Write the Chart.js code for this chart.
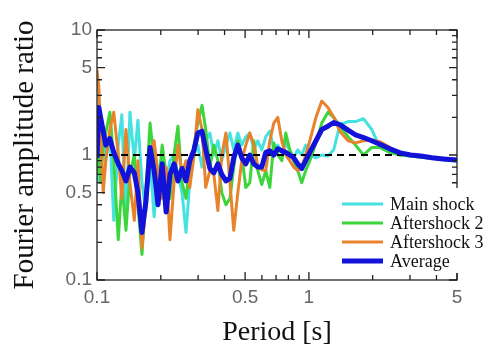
<!DOCTYPE html>
<html>
<head>
<meta charset="utf-8">
<script src="https://cdn.jsdelivr.net/npm/chart.js@4.4.1/dist/chart.umd.min.js"></script>
<style>
  html, body { margin: 0; padding: 0; background: #fff; }
  #wrap { width: 490px; height: 344px; }
</style>
</head>
<body>
<div id="wrap"><canvas id="spectra" width="490" height="344"></canvas></div>
<script>
// period [s] shared by all four spectra
const PERIODS = [0.100, 0.102, 0.104, 0.107, 0.110, 0.115, 0.120, 0.126, 0.131, 0.137,
  0.143, 0.150, 0.156, 0.163, 0.170, 0.178, 0.186, 0.194, 0.203, 0.212,
  0.221, 0.231, 0.241, 0.252, 0.263, 0.274, 0.287, 0.299, 0.313, 0.326,
  0.341, 0.356, 0.372, 0.388, 0.406, 0.424, 0.442, 0.462, 0.482, 0.504,
  0.526, 0.550, 0.574, 0.599, 0.626, 0.654, 0.683, 0.713, 0.745, 0.778,
  0.812, 0.848, 0.886, 0.925, 0.966, 1.01, 1.08, 1.15, 1.23, 1.31,
  1.40, 1.53, 1.66, 1.81, 1.98, 2.16, 2.41, 2.70, 3.02, 3.37,
  3.81, 4.30, 5.00];

const MAIN_SHOCK = [0.7, 0.62, 1.0, 1.4, 0.9, 1.5, 0.3, 1.2, 2.1, 0.3,
  2.2, 0.9, 1.9, 0.6, 0.35, 0.9, 0.32, 0.7, 1.0, 0.6,
  0.9, 1.0, 0.7, 0.5, 0.24, 0.6, 1.0, 1.2, 0.8, 1.3,
  1.5, 1.0, 1.3, 0.9, 1.2, 1.5, 1.1, 1.5, 1.2, 1.4,
  1.5, 1.1, 1.3, 1.1, 1.4, 1.55, 1.1, 1.2, 1.05, 1.25,
  1.1, 0.95, 1.1, 1.0, 1.2, 1.0, 0.95, 1.0, 0.98, 1.1,
  1.75, 1.85, 1.85, 1.95, 1.6, 1.15, 1.05, 1.0, 0.98, 0.96,
  0.94, 0.92, 0.89];

const AFTERSHOCK_2 = [0.7, 1.1, 0.6, 1.2, 1.5, 2.2, 0.9, 0.21, 0.6, 0.25,
  0.7, 1.0, 0.4, 0.16, 0.5, 1.8, 0.9, 0.5, 1.2, 0.7,
  0.45, 1.0, 1.7, 0.6, 0.45, 0.8, 1.2, 1.8, 2.5, 1.6,
  0.8, 1.2, 0.9, 0.5, 0.4, 0.45, 0.8, 1.3, 1.0, 0.55,
  0.6, 1.3, 0.75, 0.58, 0.75, 0.55, 1.25, 1.0, 0.9, 1.5,
  1.1, 0.9, 0.75, 0.6, 0.75, 0.9, 1.25, 1.8, 2.2, 2.0,
  1.7, 1.4, 1.2, 1.0, 1.15, 1.15, 1.05, 1.0, 0.98, 0.96,
  0.94, 0.92, 0.9];

const AFTERSHOCK_3 = [4.8, 3.5, 1.5, 0.5, 0.9, 1.6, 2.2, 1.0, 0.45, 1.6,
  0.6, 0.3, 0.9, 0.18, 0.4, 1.0, 1.3, 0.7, 0.45, 0.8,
  0.21, 0.6, 1.2, 0.7, 0.9, 0.55, 1.0, 2.3, 1.6, 0.55,
  0.75, 0.7, 0.36, 1.0, 1.5, 0.6, 0.25, 0.5, 0.9, 1.2,
  1.5, 1.2, 0.8, 0.76, 0.75, 1.3, 1.8, 2.0, 1.3, 1.0,
  0.9, 0.8, 0.75, 0.8, 1.0, 1.3, 2.0, 2.7, 2.4, 2.0,
  1.55, 1.3, 1.25, 1.3, 1.32, 1.28, 1.15, 1.02, 0.99, 0.97,
  0.95, 0.93, 0.92];

const AVERAGE = [0.95, 2.4, 2.0, 1.55, 1.2, 1.35, 1.05, 0.85, 0.75, 0.62,
  0.8, 0.72, 0.5, 0.24, 0.42, 1.15, 0.75, 0.4, 0.85, 0.35,
  0.7, 0.85, 0.62, 0.78, 0.62, 0.9, 1.1, 1.5, 1.55, 1.1,
  0.78, 0.72, 0.85, 0.7, 0.62, 0.65, 0.95, 1.2, 0.95, 0.85,
  1.0, 0.85, 0.8, 0.8, 1.05, 1.08, 1.0, 1.12, 1.08, 1.05,
  1.0, 0.95, 0.85, 0.78, 0.9, 1.05, 1.3, 1.6, 1.7, 1.82,
  1.75, 1.58, 1.45, 1.38, 1.3, 1.22, 1.12, 1.04, 1.0, 0.98,
  0.95, 0.93, 0.91];

// dashed reference at ratio = 1
const REF_PERIODS = [0.1, 2.8];
const REF_RATIO = [1, 1];

const X_TICKS = [0.1, 0.2, 0.3, 0.4, 0.5, 0.6, 0.7, 0.8, 0.9, 1, 2, 3, 4, 5];
const X_LABELS = [0.1, 0.5, 1, 5];
const Y_TICKS = [0.1, 0.2, 0.3, 0.4, 0.5, 0.6, 0.7, 0.8, 0.9, 1, 2, 3, 4, 5, 6, 7, 8, 9, 10];
const Y_LABELS = [0.1, 0.5, 1, 5, 10];

const pts = (xs, ys) => xs.map((x, i) => ({x: x, y: ys[i]}));

const series = (label, ys, color, width, order) => ({
  label: label,
  data: pts(PERIODS, ys),
  borderColor: color,
  backgroundColor: color,
  borderWidth: width,
  borderJoinStyle: 'round',
  pointRadius: 0,
  tension: 0,
  order: order
});

// box round the plot with inward tick marks on all four sides
const frame = {
  id: 'frame',
  afterDatasetsDraw(chart) {
    const {ctx, chartArea: a, scales: {x, y}} = chart;
    ctx.save();
    ctx.strokeStyle = '#222';
    ctx.lineWidth = 1.3;
    ctx.strokeRect(a.left, a.top, a.right - a.left, a.bottom - a.top);
    ctx.beginPath();
    X_TICKS.forEach(v => {
      const px = x.getPixelForValue(v);
      const len = X_LABELS.includes(v) ? 8 : 5;
      ctx.moveTo(px, a.bottom); ctx.lineTo(px, a.bottom - len);
      ctx.moveTo(px, a.top); ctx.lineTo(px, a.top + len);
    });
    Y_TICKS.forEach(v => {
      const py = y.getPixelForValue(v);
      const len = Y_LABELS.includes(v) ? 8 : 5;
      ctx.moveTo(a.left, py); ctx.lineTo(a.left + len, py);
      ctx.moveTo(a.right, py); ctx.lineTo(a.right - len, py);
    });
    ctx.stroke();
    ctx.restore();
  }
};

// legend in the lower right corner, over a white box
const boxLegend = {
  id: 'boxLegend',
  afterDraw(chart) {
    const ctx = chart.ctx;
    ctx.save();
    ctx.fillStyle = '#fff';
    ctx.fillRect(338, 188, 152, 85);
    ctx.font = '18px "Liberation Serif", "Times New Roman", serif';
    ctx.textBaseline = 'alphabetic';
    ctx.textAlign = 'left';
    chart.data.datasets.filter(d => d.label).forEach((d, i) => {
      const base = 210 + i * 19;
      ctx.strokeStyle = d.borderColor;
      ctx.lineWidth = d.borderWidth;
      ctx.beginPath();
      ctx.moveTo(342, base - 6);
      ctx.lineTo(383, base - 6);
      ctx.stroke();
      ctx.fillStyle = '#111';
      ctx.fillText(d.label, 390, base);
    });
    ctx.restore();
  }
};

new Chart(document.getElementById('spectra'), {
  type: 'line',
  data: {
    datasets: [
      series('Main shock', MAIN_SHOCK, '#45e2e2', 3, 4),
      series('Aftershock 2', AFTERSHOCK_2, '#3cd63c', 3, 3),
      series('Aftershock 3', AFTERSHOCK_3, '#e8832c', 3, 2),
      series('Average', AVERAGE, '#1212d8', 5, 0),
      {
        label: '',
        data: pts(REF_PERIODS, REF_RATIO),
        borderColor: '#000',
        borderWidth: 1.8,
        borderDash: [7, 5],
        pointRadius: 0,
        order: 1
      }
    ]
  },
  options: {
    responsive: false,
    animation: false,
    devicePixelRatio: 1,
    layout: { padding: { left: 0, right: 33, top: 30, bottom: 0 } },
    plugins: { legend: { display: false }, tooltip: { enabled: false } },
    scales: {
      x: {
        type: 'logarithmic',
        position: 'bottom',
        min: 0.1,
        max: 5,
        grid: { display: false, drawTicks: false },
        border: { display: false },
        afterBuildTicks: s => { s.ticks = X_TICKS.map(v => ({value: v})); },
        afterFit: s => { s.height = 64; },
        ticks: {
          autoSkip: false,
          maxRotation: 0,
          padding: 6,
          color: '#666',
          font: { family: '"Liberation Sans", Arial, sans-serif', size: 19 },
          callback: v => X_LABELS.includes(v) ? String(v) : ''
        },
        title: {
          display: true,
          text: 'Period [s]',
          color: '#111',
          font: { family: '"Liberation Serif", "Times New Roman", serif', size: 28, lineHeight: 0.8 },
          padding: { top: 0, bottom: 0 }
        }
      },
      y: {
        type: 'logarithmic',
        position: 'left',
        min: 0.1,
        max: 10,
        grid: { display: false, drawTicks: false },
        border: { display: false },
        afterBuildTicks: s => { s.ticks = Y_TICKS.map(v => ({value: v})); },
        afterFit: s => { s.width = 97; },
        ticks: {
          autoSkip: false,
          padding: 5,
          color: '#666',
          font: { family: '"Liberation Sans", Arial, sans-serif', size: 19 },
          callback: v => Y_LABELS.includes(v) ? String(v) : ''
        },
        title: {
          display: true,
          text: 'Fourier amplitude ratio',
          color: '#111',
          font: { family: '"Liberation Serif", "Times New Roman", serif', size: 29 },
          padding: { top: 8, bottom: 0 }
        }
      }
    }
  },
  plugins: [frame, boxLegend]
});
</script>
</body>
</html>
